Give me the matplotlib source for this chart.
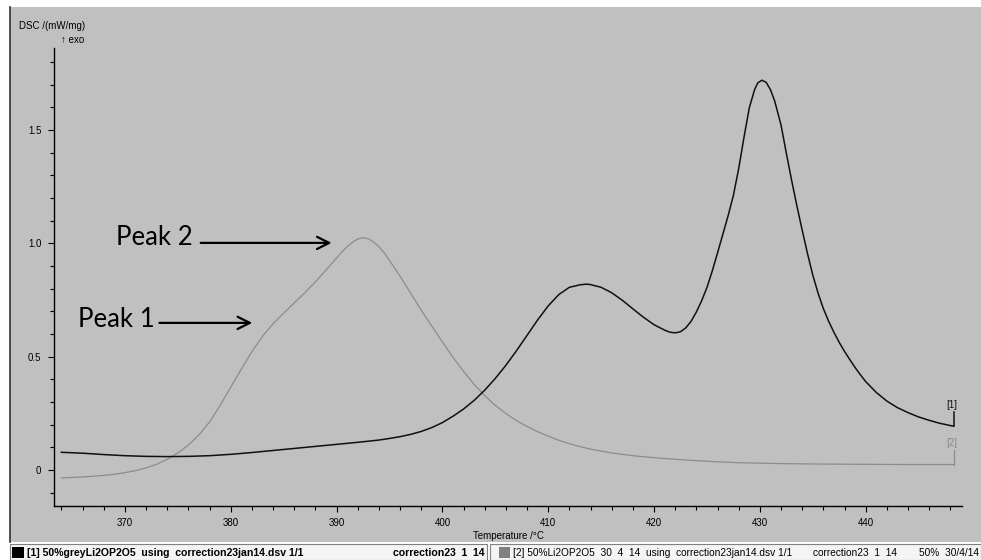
import matplotlib
matplotlib.use("Agg")
import matplotlib.pyplot as plt
from matplotlib.patches import Rectangle
from matplotlib.ticker import MultipleLocator, FixedFormatter, FixedLocator

plt.rcParams['font.family'] = ['Liberation Sans', 'DejaVu Sans']

# DSC trace [1]: 50% grey Li2O-P2O5
temp_1 = [364, 366, 368, 370, 372, 374, 376, 378, 380, 382, 384, 386, 388,
          390, 392, 394, 395, 396, 397, 398, 399, 400, 401, 402, 403, 404,
          405, 406, 407, 408, 409, 410, 411, 412, 413, 413.6, 414, 415, 416,
          417, 418, 419, 420, 421, 421.5, 422, 422.5, 423, 423.5, 424, 424.5,
          425, 425.5, 426, 426.5, 427, 427.5, 428, 428.5, 429, 429.5, 429.8,
          430.2, 430.6, 431, 431.4, 432, 432.5, 433, 433.5, 434, 434.5, 435,
          435.5, 436, 436.5, 437, 437.5, 438, 438.5, 439, 439.5, 440, 441,
          442, 443, 444, 445, 446, 447, 448.3]
dsc_1 = [0.078, 0.074, 0.068, 0.063, 0.060, 0.059, 0.060, 0.063, 0.069,
         0.077, 0.086, 0.095, 0.104, 0.113, 0.122, 0.132, 0.139, 0.147,
         0.157, 0.170, 0.187, 0.209, 0.237, 0.269, 0.307, 0.352, 0.404,
         0.462, 0.526, 0.594, 0.662, 0.724, 0.774, 0.806, 0.817, 0.820,
         0.818, 0.806, 0.782, 0.749, 0.711, 0.674, 0.641, 0.617, 0.608,
         0.605, 0.610, 0.627, 0.656, 0.697, 0.747, 0.805, 0.878, 0.958,
         1.040, 1.122, 1.212, 1.330, 1.468, 1.598, 1.678, 1.708, 1.720,
         1.710, 1.678, 1.628, 1.522, 1.398, 1.278, 1.165, 1.058, 0.955,
         0.860, 0.780, 0.712, 0.656, 0.607, 0.563, 0.523, 0.487, 0.452,
         0.420, 0.390, 0.342, 0.304, 0.275, 0.253, 0.234, 0.219, 0.206,
         0.193]

# DSC trace [2]: 50% Li2O-P2O5 30/4/14
temp_2 = [364, 366, 368, 369, 370, 371, 372, 373, 374, 375, 376, 377, 378,
          379, 380, 381, 382, 383, 384, 385, 386, 387, 388, 389, 390, 390.5,
          391, 391.5, 392, 392.5, 393, 393.5, 394, 394.5, 395, 396, 397, 398,
          399, 400, 401, 402, 403, 404, 405, 406, 407, 408, 409, 410, 411,
          412, 413, 414, 416, 418, 420, 422, 424, 426, 428, 432, 436, 440,
          444, 448.3]
dsc_2 = [-0.035, -0.031, -0.024, -0.019, -0.012, -0.003, 0.009, 0.025,
         0.047, 0.075, 0.110, 0.155, 0.212, 0.285, 0.365, 0.445, 0.522,
         0.590, 0.645, 0.692, 0.737, 0.782, 0.830, 0.882, 0.935, 0.962,
         0.985, 1.005, 1.019, 1.025, 1.020, 1.006, 0.985, 0.958, 0.925,
         0.855, 0.780, 0.705, 0.635, 0.565, 0.497, 0.435, 0.378, 0.328,
         0.285, 0.249, 0.218, 0.192, 0.169, 0.149, 0.131, 0.116, 0.103,
         0.092, 0.075, 0.063, 0.054, 0.047, 0.041, 0.036, 0.032, 0.028,
         0.026, 0.025, 0.024, 0.024]

y_major = [0, 0.5, 1.0, 1.5]
y_major_labels = ['0', '0.5', '1.0', '1.5']
x_major = [370, 380, 390, 400, 410, 420, 430, 440]

bg = '#c0c0c0'
W, H = 981, 560
fig = plt.figure(figsize=(W / 100, H / 100), dpi=100, facecolor='white')

# grey work area with the dark rule down its left side
fig.add_artist(Rectangle((10 / W, 1 - 542 / H), 971 / W, 535 / H,
                         transform=fig.transFigure, facecolor=bg,
                         edgecolor='none', zorder=-2))
fig.add_artist(plt.Line2D([10 / W, 10 / W], [1 - 542 / H, 1 - 7 / H],
                          transform=fig.transFigure, color='#303030', lw=1.2))

ax = fig.add_axes([54 / W, 1 - 506 / H, 908 / W, 458 / H])
ax.set_facecolor(bg)
ax.plot(temp_2, dsc_2, color='#8c8c8c', lw=0.9)
ax.plot(temp_1, dsc_1, color='#101010', lw=1.1)

# curve end markers with their tags
ax.plot([temp_1[-1], temp_1[-1]], [dsc_1[-1], 0.255], color='#101010', lw=1.1)
ax.plot([temp_2[-1], temp_2[-1]], [dsc_2[-1], 0.088], color='#8c8c8c', lw=0.9)
ax.text(448.1, 0.288, '[1]', fontsize=7, ha='center', va='center', color='#101010')
ax.text(448.1, 0.119, '[2]', fontsize=7, ha='center', va='center', color='#8c8c8c')

ax.set_xlim(363.3, 449.1)
ax.set_ylim(-0.159, 1.862)
for s in ['top', 'right']:
    ax.spines[s].set_visible(False)
for s in ['left', 'bottom']:
    ax.spines[s].set_linewidth(1.0)

ax.xaxis.set_major_locator(FixedLocator(x_major))
ax.xaxis.set_minor_locator(MultipleLocator(2))
ax.yaxis.set_major_locator(FixedLocator(y_major))
ax.yaxis.set_major_formatter(FixedFormatter(y_major_labels))
ax.yaxis.set_minor_locator(MultipleLocator(0.1))
ax.tick_params(which='both', direction='out', labelsize=7, width=0.8)
ax.tick_params(which='major', length=4, pad=5)
ax.tick_params(which='minor', length=3)
ax.set_xlabel('Temperature /°C', fontsize=7, labelpad=2)

# peak annotations
peak_font = ['Lato', 'DejaVu Sans']
ax.text(369.2, 0.993, 'Peak 2', fontsize=18.5, family=peak_font,
        ha='left', va='baseline')
ax.annotate('', xy=(389.8, 1.002), xytext=(376.9, 1.002),
            arrowprops=dict(arrowstyle='->', lw=1.6, color='black',
                            mutation_scale=22))
ax.text(365.55, 0.631, 'Peak 1', fontsize=18.5, family=peak_font,
        ha='left', va='baseline')
ax.annotate('', xy=(382.3, 0.649), xytext=(373.0, 0.649),
            arrowprops=dict(arrowstyle='->', lw=1.6, color='black',
                            mutation_scale=22))

fig.text(19 / W, 1 - 26 / H, 'DSC /(mW/mg)', fontsize=7, va='center')
fig.text(61 / W, 1 - 40 / H, '↑ exo', fontsize=7, va='center')

# status bar
fig.add_artist(Rectangle((10 / W, 0), 477 / W, 16 / H, transform=fig.transFigure,
                         facecolor='#f4f4f4', edgecolor='#808080', lw=0.8))
fig.add_artist(Rectangle((490 / W, 0), 491 / W, 16 / H, transform=fig.transFigure,
                         facecolor='#f4f4f4', edgecolor='#808080', lw=0.8))
fig.add_artist(Rectangle((12 / W, 2 / H), 12 / W, 11 / H, transform=fig.transFigure,
                         facecolor='black', edgecolor='none'))
fig.add_artist(Rectangle((499 / W, 2 / H), 11 / W, 11 / H, transform=fig.transFigure,
                         facecolor='#808080', edgecolor='none'))
sy = 7.5 / H
fig.text(27 / W, sy, '[1] 50%greyLi2OP2O5  using  correction23jan14.dsv 1/1',
         fontsize=7.6, weight='bold', va='center')
fig.text(485 / W, sy, 'correction23  1  14', fontsize=7.6, weight='bold',
         va='center', ha='right')
fig.text(513 / W, sy, '[2] 50%Li2OP2O5  30  4  14  using  correction23jan14.dsv 1/1',
         fontsize=7.3, va='center')
fig.text(813 / W, sy, 'correction23  1  14', fontsize=7.3, va='center')
fig.text(979 / W, sy, '50%  30/4/14', fontsize=7.3, va='center', ha='right')

fig.savefig('out.png', dpi=100, facecolor=fig.get_facecolor())
